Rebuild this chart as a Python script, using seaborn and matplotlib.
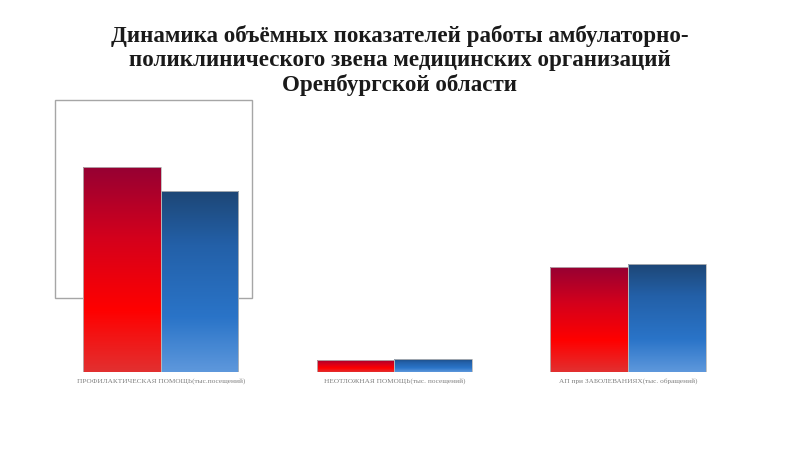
import matplotlib
matplotlib.use("Agg")
import numpy as np
import pandas as pd
import matplotlib.pyplot as plt
import seaborn as sns
from matplotlib.colors import LinearSegmentedColormap
from matplotlib.patches import Rectangle

# --- данные (оценка по картинке, тыс.) ---
categories = [
    "ПРОФИЛАКТИЧЕСКАЯ ПОМОЩЬ(тыс.посещений)",
    "НЕОТЛОЖНАЯ ПОМОЩЬ(тыс. посещений)",
    "АП при ЗАБОЛЕВАНИЯХ(тыс. обращений)",
]
series_names = ["Ряд 1", "Ряд 2"]
values_1 = [2050, 120, 1050]
values_2 = [1810, 130, 1080]

title = ("Динамика объёмных показателей работы амбулаторно-\n"
         "поликлинического звена медицинских организаций\n"
         "Оренбургской области")

df = pd.DataFrame({
    "cat": categories * 2,
    "series": [series_names[0]] * 3 + [series_names[1]] * 3,
    "value": values_1 + values_2,
})

red_cmap = LinearSegmentedColormap.from_list(
    "red", [(0, "#e23030"), (0.3, "#ff0000"), (0.65, "#d4001c"), (1, "#950033")])
blue_cmap = LinearSegmentedColormap.from_list(
    "blue", [(0, "#5e98dc"), (0.3, "#2a74c8"), (0.7, "#2360a8"), (1, "#1d4675")])

sns.set_style("white")
fig = plt.figure(figsize=(8, 4.5), dpi=100)
ax = fig.add_axes([0.055, 0.173, 0.876, 0.605])
ax.patch.set_alpha(0)

# пустая рамка за первой группой
fig.patches.append(Rectangle((55 / 800, 1 - 298 / 450), 197 / 800, 198 / 450,
                             transform=fig.transFigure, fill=False,
                             edgecolor="#a6a6a6", linewidth=1.0, zorder=-1))

sns.barplot(data=df, x="cat", y="value", hue="series", order=categories,
            palette=["#ff0000", "#2a74c8"], width=0.664, gap=0,
            legend=False, ax=ax, edgecolor="#b8b8b8", linewidth=0.6)

# градиентная заливка столбцов
grad = np.linspace(0, 1, 256).reshape(-1, 1)
for i, bar in enumerate(ax.patches):
    x0, y0 = bar.get_x(), bar.get_y()
    w, h = bar.get_width(), bar.get_height()
    cmap = red_cmap if i < 3 else blue_cmap
    im = ax.imshow(grad, cmap=cmap, origin="lower", aspect="auto",
                   extent=(x0, x0 + w, y0, y0 + h), zorder=bar.get_zorder() - 0.1)
    im.set_clip_path(bar)
    bar.set_facecolor("none")
ax.set_xlim(-0.5, 2.5)
ax.set_ylim(0, 2050 * 272 / 205)

ax.set_xlabel("")
ax.set_ylabel("")
ax.set_yticks([])
ax.tick_params(axis="x", length=0, pad=4.5, labelsize=5.2, labelcolor="#7f7f7f")
for lbl in ax.get_xticklabels():
    lbl.set_family("Liberation Serif")
sns.despine(ax=ax, left=True, bottom=True)

fig.text(0.5, 0.945, title, ha="center", va="top", fontsize=16.6,
         fontweight="bold", family="Liberation Serif", color="#1a1a1a",
         linespacing=1.2)

fig.savefig("out.png", dpi=100)
